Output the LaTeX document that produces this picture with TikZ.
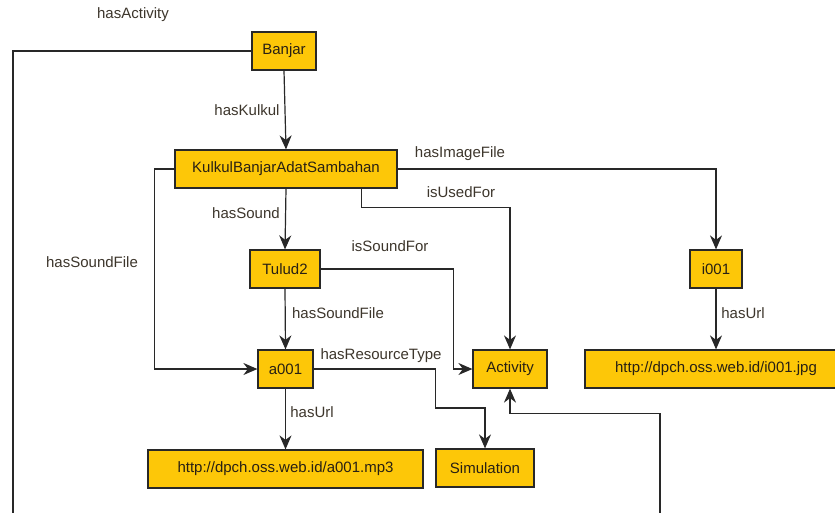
\documentclass[tikz,border=0pt]{standalone}
\usepackage{fontspec}
\setmainfont{Liberation Sans}
\usetikzlibrary{arrows.meta}
\definecolor{boxfill}{RGB}{253,199,8}
\definecolor{lncol}{RGB}{40,40,40}
\definecolor{txtcol}{RGB}{40,32,20}
\tikzset{
  box/.style={draw=lncol, line width=1.2pt, fill=boxfill, inner sep=0pt, minimum height=38pt, text=txtcol, font=\fontsize{15}{18}\selectfont},
  lbl/.style={inner sep=0pt, text=txtcol!90, font=\fontsize{15}{18}\selectfont},
  conn/.style={draw=lncol, line width=1.2pt},
  arr/.style={conn, arrows={-Stealth[length=14pt, width=12pt, inset=4.5pt]}}
}
\begin{document}
\begin{tikzpicture}[x=1pt,y=-1pt]
\useasboundingbox (0,0) rectangle (835,512);
\clip (0,0) rectangle (835,512);
\fill[white] (0,0) rectangle (835,512);
% nodes
\node[box, minimum width=64pt] (banjar) at (284,51) {Banjar};
\node[box, minimum width=222pt] (kulkul) at (286,169) {KulkulBanjarAdatSambahan};
\node[box, minimum width=70pt] (tulud) at (285,269) {Tulud2};
\node[box, minimum width=55pt] (a001) at (285.5,369) {a001};
\node[box, minimum width=275pt] (mp3) at (285.5,469) {http://dpch.oss.web.id/a001.mp3};
\node[box, minimum width=98pt] (sim) at (485,468) {Simulation};
\node[box, minimum width=74pt] (activity) at (510,369) {Activity};
\node[box, minimum width=52pt] (i001) at (716,269) {i001};
\node[box, minimum width=262pt] (jpg) at (716,369) {http://dpch.oss.web.id/i001.jpg};
% free ends
\coordinate (b1) at (13,515);
\coordinate (b2) at (660,515);
% connectors
\draw[conn] (banjar.west) -| (b1);
\draw[arr] (banjar.south) -- (kulkul.north);
\draw[arr] (kulkul.east) -| (i001.north);
\draw[arr] ([xshift=-36pt]kulkul.south east) -- ++(0,19) -| (activity.north);
\draw[arr] (kulkul.south) -- (tulud.north);
\draw[arr] (kulkul.west) -| ([xshift=-103pt]a001.west) -- (a001.west);
\draw[arr] (tulud.east) -| ([xshift=-19pt]activity.west) -- (activity.west);
\draw[arr] (tulud.south) -- (a001.north);
\draw[arr] (a001.east) -- ++(122,0) -- ++(0,39) -| (sim.north);
\draw[arr] (a001.south) -- (mp3.north);
\draw[arr] (i001.south) -- (jpg.north);
\draw[arr] (b2) |- ([yshift=-25pt]activity.south) -- (activity.south);
% labels
\node[lbl] (l1) at (133,15) {hasActivity};
\node[lbl] (l2) at (247,110) {hasKulkul};
\node[lbl] (l3) at (460,154) {hasImageFile};
\node[lbl] (l4) at (461,192) {isUsedFor};
\node[lbl] (l5) at (246,213) {hasSound};
\node[lbl] (l6) at (92,262) {hasSoundFile};
\node[lbl] (l7) at (390,246) {isSoundFor};
\node[lbl] (l8) at (338,313) {hasSoundFile};
\node[lbl] (l9) at (381,356) {hasResourceType};
\node[lbl] (l10) at (312,412) {hasUrl};
\node[lbl] (l11) at (743,313) {hasUrl};
\end{tikzpicture}
\end{document}
